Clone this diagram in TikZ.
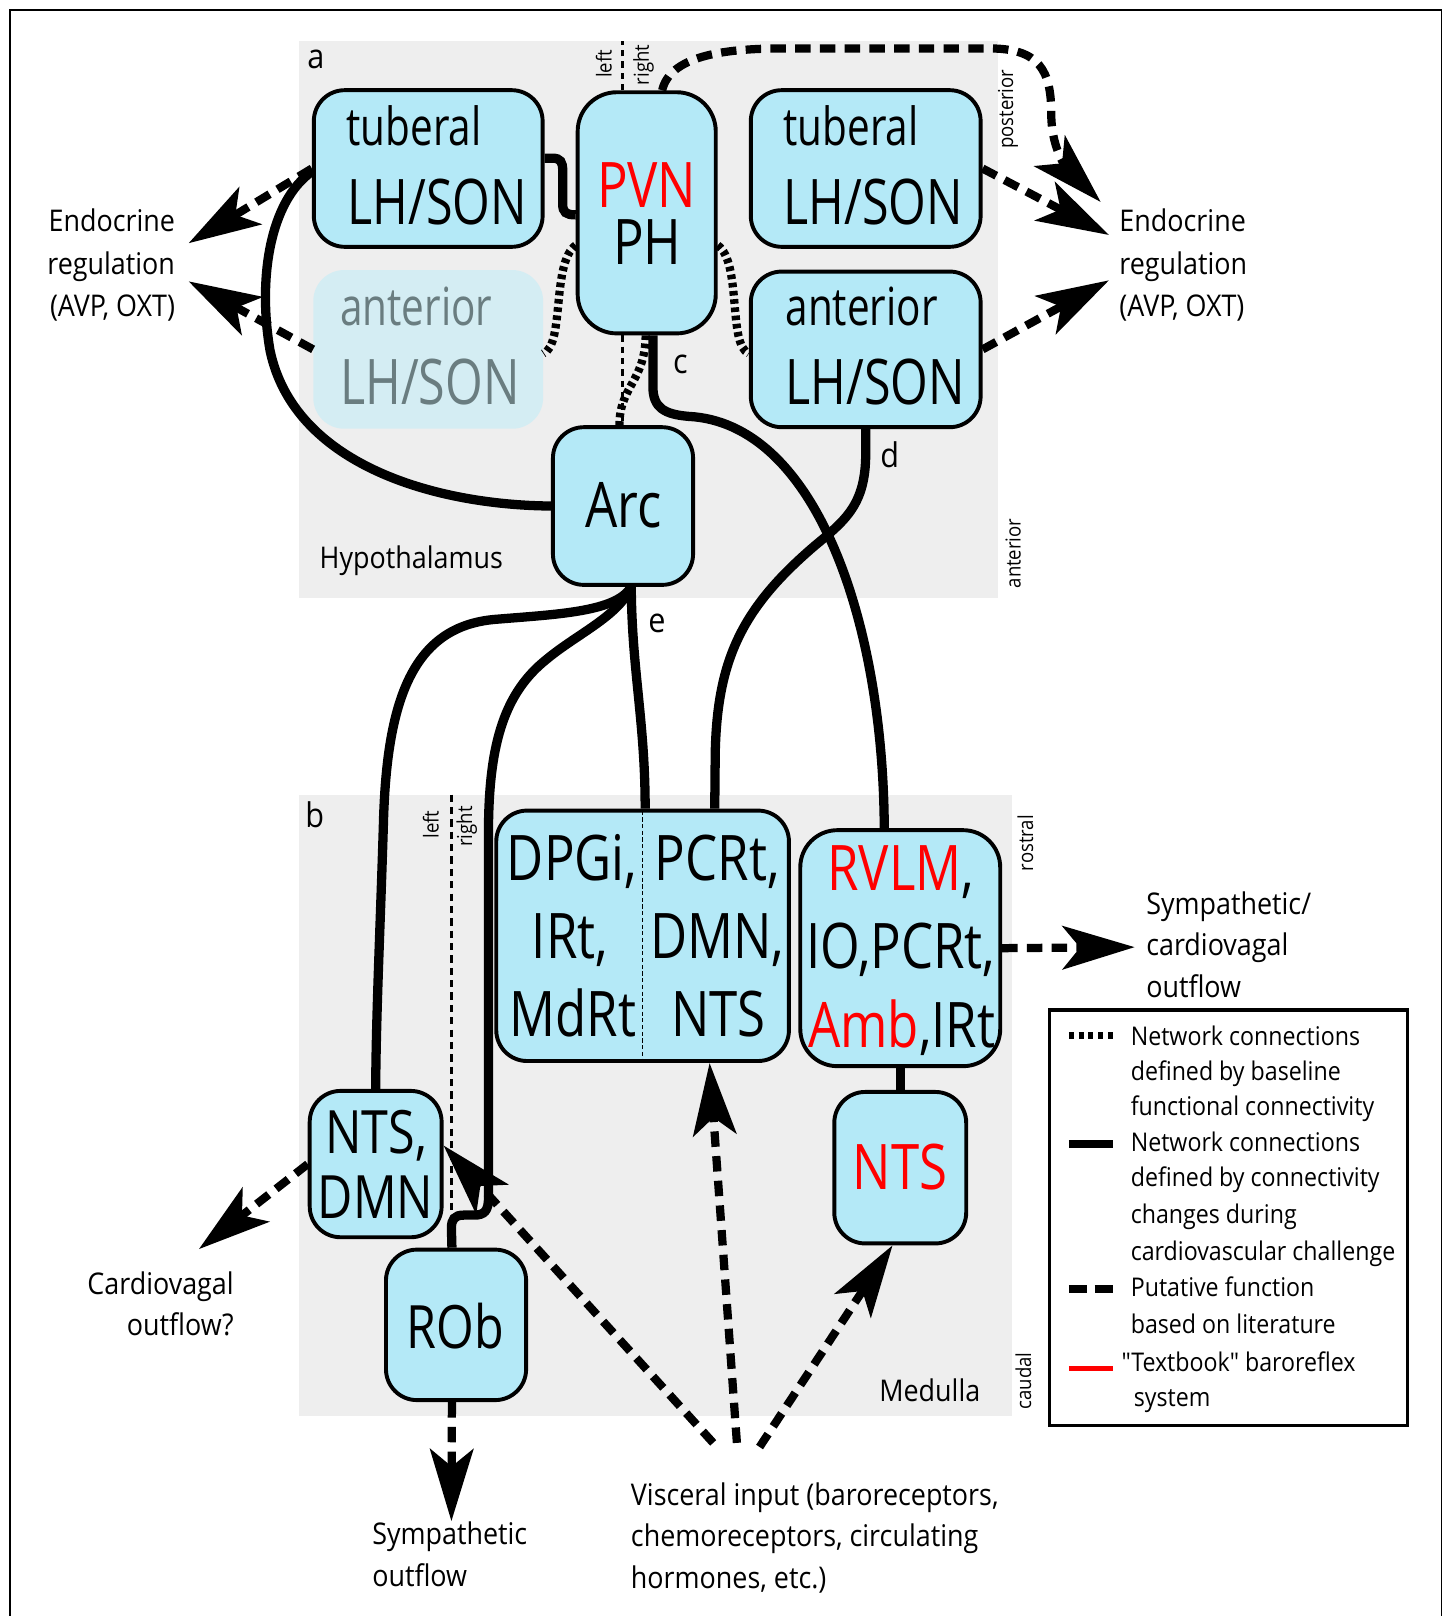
\documentclass[tikz,border=0pt]{standalone}
\usepackage{fontspec}
\setmainfont{Open Sans}[FakeStretch=0.9]
\newfontfamily\bigf{Open Sans}[FakeStretch=0.81]
\newfontfamily\lhf{Open Sans}[FakeStretch=0.77]
\newfontfamily\quotef{Open Sans}[FakeStretch=0.9, Ligatures=TeXOff]
\usetikzlibrary{arrows.meta}
\definecolor{nodecol}{RGB}{180,233,247}
\definecolor{fadecol}{RGB}{212,237,243}
\definecolor{fadetext}{RGB}{106,125,128}
\definecolor{panel}{RGB}{238,238,238}
\definecolor{redc}{RGB}{255,0,0}
\begin{document}
\begin{tikzpicture}[x=1pt,y=-1pt,
  box/.style={draw=black, line width=3.8pt, fill=nodecol, rounded corners=30pt, inner sep=0pt},
  fadebox/.style={fill=fadecol, rounded corners=30pt, inner sep=0pt},
  big/.style={font={\bigf\fontsize{61}{61}\selectfont}, inner sep=0pt},
  lhbig/.style={font={\lhf\fontsize{61}{61}\selectfont}, inner sep=0pt},
  bigs/.style={font={\bigf\fontsize{58}{58}\selectfont}, inner sep=0pt},
  mid/.style={font={\lhf\fontsize{51}{51}\selectfont}, inner sep=0pt},
  lab/.style={font={\fontsize{29}{29}\selectfont}, inner sep=0pt},
  leg/.style={font={\fontsize{25}{25}\selectfont}, inner sep=0pt},
  tinyr/.style={font={\fontsize{20}{20}\selectfont}, inner sep=0pt, rotate=90},
  letter/.style={font={\fontsize{33}{33}\selectfont}, inner sep=0pt},
  solidc/.style={line width=9pt},
  dottedc/.style={line width=8pt, dash pattern=on 4.5pt off 3.5pt},
  dashc/.style={line width=8pt, dash pattern=on 15pt off 9pt, -{Stealth[length=70pt,width=42pt,inset=17pt]}},
  midline/.style={line width=2.5pt, dash pattern=on 6pt off 5pt}
]
\useasboundingbox (0,0) rectangle (1404,1568);
% outer frame
\draw[line width=1.6pt] (9.5,1570) -- (9.5,9.5) -- (1398.5,9.5) -- (1398.5,1570);
% panels
\fill[panel] (290,40) rectangle (968,580);
\fill[panel] (290,771) rectangle (982,1374);

% boxes
\node[box, minimum width=222pt, minimum height=152pt] (tubL) at (415.5,163.5) {};
\node[fadebox, minimum width=223pt, minimum height=154pt] (antL) at (415.5,339) {};
\node[box, rounded corners=38pt, minimum width=134pt, minimum height=234pt] (PVN) at (627.5,206.5) {};
\node[box, minimum width=223pt, minimum height=152pt] (tubR) at (840,163.5) {};
\node[box, minimum width=223pt, minimum height=151pt] (antR) at (840,339) {};
\node[box, minimum width=136pt, minimum height=153pt] (Arc) at (604.5,491) {};
\node[box, minimum width=284pt, minimum height=243pt] (DPGi) at (623.5,908) {};
\node[box, rounded corners=36pt, minimum width=194pt, minimum height=229pt] (RVLM) at (873.5,920) {};
\node[box, minimum width=128pt, minimum height=147pt] (NTSr) at (873.5,1133) {};
\node[box, minimum width=128pt, minimum height=142pt] (NTSD) at (364.5,1129.5) {};
\node[box, minimum width=136pt, minimum height=146pt] (ROb) at (442.5,1285.5) {};

% box texts
\node[mid, anchor=base west] (tubLa) at (336,141) {tuberal};
\node[lhbig, anchor=base west] (tubLb) at (337,218) {LH/SON};
\node[mid, anchor=base west, text=fadetext] (antLa) at (330,316) {anterior};
\node[lhbig, anchor=base west, text=fadetext] (antLb) at (330,392) {LH/SON};
\node[big, anchor=base, text=redc] (PVNa) at (627.5,201) {PVN};
\node[big, anchor=base] (PVNb) at (628,257) {PH};
\node[mid, anchor=base west] (tubRa) at (760,141) {tuberal};
\node[lhbig, anchor=base west] (tubRb) at (760,218) {LH/SON};
\node[mid, anchor=base west] (antRa) at (762,316) {anterior};
\node[lhbig, anchor=base west] (antRb) at (762,392) {LH/SON};
\node[big, anchor=base] (Arca) at (605,512) {Arc};
\node[big, anchor=base] (DPa) at (555,854) {DPGi,};
\node[big, anchor=base] (DPb) at (553,930) {IRt,};
\node[big, anchor=base] (DPc) at (556,1006) {MdRt};
\node[big, anchor=base] (DPd) at (696,854) {PCRt,};
\node[big, anchor=base] (DPe) at (696,930) {DMN,};
\node[big, anchor=base] (DPf) at (697,1006) {NTS};
\node[big, anchor=base] (RVa) at (874,864) {\textcolor{redc}{RVLM},};
\node[big, anchor=base] (RVb) at (874,940) {IO,PCRt,};
\node[big, anchor=base] (RVc) at (875,1016) {\textcolor{redc}{Amb},IRt};
\node[big, anchor=base, text=redc] (NTSra) at (873.5,1154) {NTS};
\node[bigs, anchor=base] (NTSDa) at (365,1119) {NTS,};
\node[bigs, anchor=base] (NTSDb) at (364.5,1182) {DMN};
\node[bigs, anchor=base] (ROba) at (441.5,1308) {ROb};

% thin midlines and divider
\draw[midline] ([xshift=-23.5pt]PVN.north) -- (604,40);
\draw[midline] ([xshift=-23.5pt]PVN.south) -- ([xshift=-0.5pt]Arc.north);
\draw[line width=3.2pt, dash pattern=on 7pt off 5pt] (438,771) -- (438,1178);
\draw[line width=1.4pt, dash pattern=on 4pt off 2.5pt] ([yshift=-2pt]DPGi.north) -- ([yshift=2pt]DPGi.south);

% solid connectors
\draw[solidc] ([yshift=10pt]tubL.east) -- (536,153.5) .. controls (544,153.5) and (546,157) .. (546,166) -- (546,198) .. controls (546,206) and (549,208.5) .. ([yshift=-2pt]PVN.west);
\draw[solidc] ([yshift=-3pt]tubL.west) .. controls (262,195) and (250,270) .. (262,340) .. controls (285,450) and (420,490) .. (Arc.west);
\draw[solidc] ([xshift=6pt]PVN.south) -- (633.5,375) .. controls (633.5,396) and (645,402) .. (668,404) .. controls (790,410) and (857,600) .. ([xshift=-15.5pt]RVLM.north);
\draw[solidc] (antR.south) -- (840,440) .. controls (840,490) and (820,505) .. (790,530) .. controls (720,590) and (696,640) .. (694,730) -- ([xshift=70pt]DPGi.north);
\draw[solidc] ([xshift=8pt]Arc.south) .. controls (613,650) and (626,700) .. ([xshift=2.5pt]DPGi.north);
\draw[solidc] ([xshift=8pt]Arc.south) .. controls (598,594) and (540,596) .. (480,601) .. controls (400,608) and (375,680) .. (372,800) .. controls (369,900) and (365,980) .. (NTSD.north);
\draw[solidc] ([xshift=8pt]Arc.south) .. controls (600,598) and (560,615) .. (530,640) .. controls (490,672) and (475,720) .. (474,800) -- (474,1162) .. controls (474,1175) and (470,1179) .. (460,1179) -- (450,1179) .. controls (441,1179) and (438,1183) .. (438,1192) -- ([xshift=-4pt]ROb.north);
\draw[solidc] (RVLM.south) -- (NTSr.north);

% dotted connectors
\draw[dottedc] ([yshift=-31.5pt]PVN.west) .. controls (535,255) and (548,335) .. ([yshift=-4pt]antL.east);
\draw[dottedc] ([yshift=-31.5pt]PVN.east) .. controls (720,255) and (706,335) .. ([yshift=-4pt]antR.west);
\draw[dottedc] ([xshift=-1pt]PVN.south) .. controls (626,370) and (601,375) .. ([xshift=-3.5pt]Arc.north);

% free ends of dashed arrows
\coordinate (eL1) at (183,236);
\coordinate (eL2) at (183,273);
\coordinate (eR0) at (1068,196);
\coordinate (eR1) at (1076,228);
\coordinate (eR2) at (1076,272);
\coordinate (symc) at (1101,919);
\coordinate (cardo) at (193,1212);
\coordinate (symo) at (438,1476);
\coordinate (visc1) at (692,1400);
\coordinate (visc2) at (715,1400);
\coordinate (visc3) at (737,1404);

% dashed arrows
\draw[dashc] (tubL.west) -- (eL1);
\draw[dashc] (antL.west) -- (eL2);
\draw[dashc] ([xshift=15pt]PVN.north) .. controls (650,55) and (700,47) .. (760,47) -- (960,47) .. controls (1008,47) and (1020,68) .. (1020,110) .. controls (1020,150) and (1040,168) .. (eR0);
\draw[dashc] (tubR.east) -- (eR1);
\draw[dashc] (antR.east) -- (eR2);
\draw[dashc] (RVLM.east) -- (symc);
\draw[dashc] (NTSD.west) -- (cardo);
\draw[dashc] ([xshift=-4pt]ROb.south) -- (symo);
\draw[dashc] (visc1) -- ([yshift=18pt]NTSD.east);
\draw[dashc] (visc2) -- ([xshift=65pt]DPGi.south);
\draw[dashc] (visc3) -- ([xshift=-7.5pt]NTSr.south);

% labels
\node[letter, anchor=base west] (la) at (298,66) {a};
\node[letter, anchor=base west] (lb) at (296,803) {b};
\node[letter, anchor=base west] (lc) at (653,362) {c};
\node[letter, anchor=base west] (ld) at (854,454) {d};
\node[letter, anchor=base west] (le) at (629,614) {e};
\node[lab, anchor=base west] (hyp) at (310,552) {Hypothalamus};
\node[lab, anchor=base west] (med) at (853,1360) {Medulla};

\node[tinyr] (l1) at (586,62) {left};
\node[tinyr] (r1) at (624.5,63) {right};
\node[tinyr] (l2) at (418,800) {left};
\node[tinyr] (r2) at (453,802) {right};
\node[tinyr] (post) at (978,106) {posterior};
\node[tinyr] (ant) at (983,537) {anterior};
\node[tinyr] (rost) at (995,818) {rostral};
\node[tinyr] (caud) at (993,1340) {caudal};

\node[lab, anchor=base east] (enL1) at (170,225) {Endocrine};
\node[lab, anchor=base east] (enL2) at (170,266) {regulation};
\node[lab, anchor=base east] (enL3) at (170,307) {(AVP, OXT)};
\node[lab, anchor=base west] (enR1) at (1086,225) {Endocrine};
\node[lab, anchor=base west] (enR2) at (1086,266) {regulation};
\node[lab, anchor=base west] (enR3) at (1086,307) {(AVP, OXT)};
\node[lab, anchor=base west] (sc1) at (1112,887) {Sympathetic/};
\node[lab, anchor=base west] (sc2) at (1112,927) {cardiovagal};
\node[lab, anchor=base west] (sc3) at (1112,968) {outflow};
\node[lab, anchor=base east] (co1) at (227,1256) {Cardiovagal};
\node[lab, anchor=base east] (co2) at (227,1296) {outflow?};
\node[lab, anchor=base west] (so1) at (361,1499) {Sympathetic};
\node[lab, anchor=base west] (so2) at (361,1539) {outflow};
\node[lab, anchor=base west] (vi1) at (612,1461) {Visceral input (baroreceptors,};
\node[lab, anchor=base west] (vi2) at (612,1501) {chemoreceptors, circulating};
\node[lab, anchor=base west] (vi3) at (612,1541) {hormones, etc.)};

% legend
\node[draw, line width=3pt, minimum width=348pt, minimum height=403pt, inner sep=0pt] (legend) at (1192,1181.5) {};
\draw[line width=7pt, dash pattern=on 5pt off 4.5pt] (1037,1005) -- (1080,1005);
\draw[line width=8pt] (1037,1110) -- (1080,1110);
\draw[line width=7.5pt, dash pattern=on 18pt off 7pt] (1037,1251) -- (1080,1251);
\draw[line width=5pt, redc] (1037,1328) -- (1080,1328);
\node[leg, anchor=base west] (lg1) at (1097,1014) {Network connections};
\node[leg, anchor=base west] (lg2) at (1097,1048) {defined by baseline};
\node[leg, anchor=base west] (lg3) at (1097,1082) {functional connectivity};
\node[leg, anchor=base west] (lg4) at (1097,1117.5) {Network connections};
\node[leg, anchor=base west] (lg5) at (1097,1151.5) {defined by connectivity};
\node[leg, anchor=base west] (lg6) at (1097,1187) {changes during};
\node[leg, anchor=base west] (lg7) at (1097,1223) {cardiovascular challenge};
\node[leg, anchor=base west] (lg8) at (1097,1258) {Putative function};
\node[leg, anchor=base west] (lg9) at (1097,1294) {based on literature};
\node[leg, anchor=base west, font={\quotef\fontsize{25}{25}\selectfont}] (lg10) at (1088,1331) {"Textbook" baroreflex};
\node[leg, anchor=base west] (lg11) at (1100,1365) {system};
\end{tikzpicture}
\end{document}
